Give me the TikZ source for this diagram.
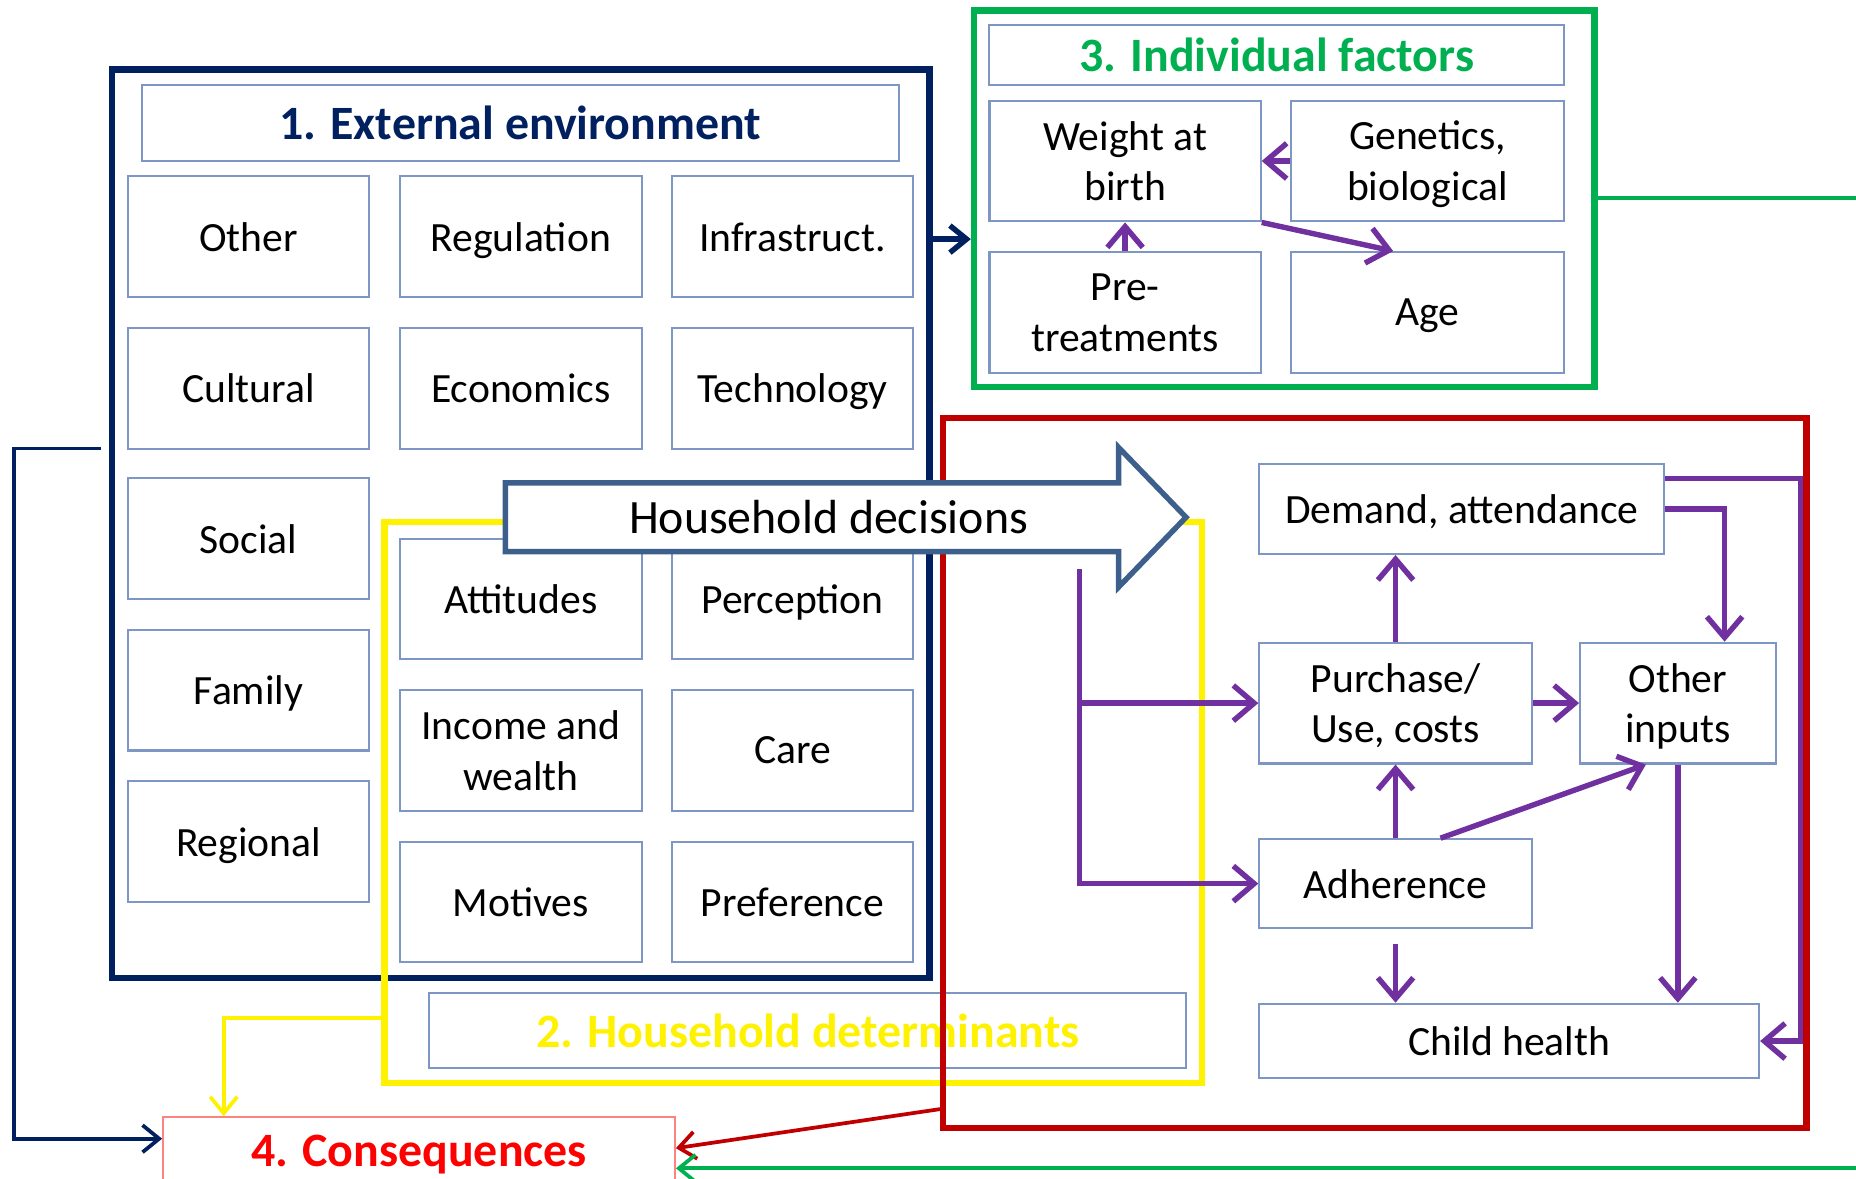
\documentclass[tikz,border=0pt]{standalone}
\usepackage{fontspec}
\setmainfont{Carlito}
\usetikzlibrary{arrows.meta,calc}
\definecolor{navy}{RGB}{0,32,96}
\definecolor{grn}{RGB}{0,176,80}
\definecolor{dred}{RGB}{192,0,0}
\definecolor{purp}{RGB}{112,48,160}
\definecolor{boxln}{RGB}{125,150,195}
\definecolor{arrln}{RGB}{60,95,140}
\definecolor{conln}{RGB}{255,130,130}

\begin{document}
\begin{tikzpicture}[x=.01cm, y=-.01cm,
  item/.style={draw=boxln, line width=.5pt, align=center, inner sep=1pt, text depth=0pt,
    minimum width=2.04cm, minimum height=1.02cm, font=\fontsize{10}{12.2}\selectfont},
  hbox/.style={draw=boxln, line width=.5pt, inner sep=1pt,
    font=\fontsize{11.5}{13}\selectfont\bfseries},
  zone/.style={draw=#1, line width=1.5pt, inner sep=0pt},
  link/.style={draw=#1, line width=.9pt, -{Straight Barb[length=4pt,width=6.5pt]}},
  flow/.style={draw=purp, line width=1.3pt, -{Straight Barb[length=5pt,width=8.5pt]}}
  ]
  \useasboundingbox (0,0) rectangle (1568,996);
  \clip (0,0) rectangle (1568,996);
  \node[zone=navy, minimum width=6.9cm, minimum height=7.67cm] (ext) at (440,442.5) {};
  \node[zone=yellow, minimum width=6.9cm, minimum height=4.74cm] (hhdet) at (670,678) {};
  \node[zone=grn, minimum width=5.24cm, minimum height=3.18cm] (indiv) at (1085,168) {};

  \node[hbox, text=navy, minimum width=6.39cm, minimum height=.64cm] (exttl) at (439.5,104) {1. External environment};
  \node[item] (other) at (210,200) {Other};
  \node[item] (regul) at (440,200) {Regulation};
  \node[item] (infra) at (669.5,200) {Infrastruct.};
  \node[item] (cultur) at (210,328) {Cultural};
  \node[item] (econ) at (440,328) {Economics};
  \node[item] (techn) at (669.5,328) {Technology};
  \node[item] (social) at (210,455) {Social};
  \node[item] (family) at (210,583) {Family};
  \node[item] (region) at (210,711) {Regional};

  \node[item] (attit) at (440,506) {Attitudes};
  \node[item] (percep) at (669.5,506) {Perception};
  \node[item] (income) at (440,634) {Income and\\wealth};
  \node[item] (care) at (669.5,634) {Care};
  \node[item] (motive) at (440,762) {Motives};
  \node[item] (prefer) at (669.5,762) {Preference};
  \node[hbox, text=yellow, minimum width=6.39cm, minimum height=.63cm] (dettl) at (682.5,870.5) {2. Household determinants};

  \node[hbox, text=grn, minimum width=4.85cm, minimum height=.51cm] (indtl) at (1078.5,46.5) {3. Individual factors};
  \node[item, minimum width=2.29cm] (weight) at (950.5,136) {Weight at\\birth};
  \node[item, minimum width=2.3cm] (genet) at (1206,136) {Genetics,\\biological};
  \node[item, minimum width=2.29cm] (pretr) at (950.5,264) {Pre-\\treatments};
  \node[item, minimum width=2.3cm] (age) at (1206,264) {Age};

  \node[zone=dred, minimum width=7.29cm, minimum height=6cm] (redf) at (1161.5,653) {};
  \node[item, minimum width=3.42cm, minimum height=.76cm] (demand) at (1235,430) {Demand, attendance};
  \node[item, minimum width=2.3cm] (purch) at (1179,594) {Purchase/\\Use, costs};
  \node[item, minimum width=1.65cm] (othin) at (1417.5,594) {Other\\inputs};
  \node[item, minimum width=2.3cm, minimum height=.75cm] (adher) at (1179,746.5) {Adherence};
  \node[item, minimum width=4.22cm, minimum height=.63cm] (child) at (1275,879.5) {Child health};

  \node[hbox, draw=conln, text=red, minimum width=4.32cm, minimum height=.62cm] (conseq) at (354,975) {4. Consequences};

  \draw[draw=arrln, fill=white, line width=1.3pt] (427,408) -- (945,408) -- (945,378)
    -- (1002,437) -- (945,496) -- (945,466) -- (427,466) -- cycle;
  \node[font=\fontsize{11.5}{13}\selectfont] (hhdec) at (700,437) {Household decisions};

  \draw[link=navy, line width=1.3pt] (ext.east |- 0,202) -- (indiv.west |- 0,202);
  \draw[link=navy, shorten <=.07cm] (ext.west |- 0,379) -- (12,379) |- (conseq.west |- 0,962);
  \draw[link=yellow] (hhdet.west |- 0,860) -| (conseq.north -| 189,0);
  \draw[link=dred] (redf.west |- 0,937) -- (conseq.east |- 0,970);
  \draw[link=grn] (indiv.east |- 0,167) -- (1600,167) -- (1600,987) -- (conseq.east |- 0,987);

  \draw[flow] (genet.west) -- (weight.east);
  \draw[flow] (pretr.north) -- (weight.south);
  \draw[flow] (weight.south east) -- ($(age.north west)!.375!(age.north east)$);
  \coordinate (split) at (912,481);
  \draw[flow] (split) |- (adher.west);
  \draw[flow] (split |- purch.west) -- (purch.west);
  \draw[flow] (purch.north) -- (purch.north |- demand.south);
  \draw[flow] (purch.east) -- (othin.west);
  \draw[flow] (adher.north) -- (purch.south);
  \draw[flow] ($(adher.north)+(38,0)$) -- ($(othin.south)+(-27,0)$);
  \draw[flow] ($(adher.south)+(0,13)$) -- (adher.south |- child.north);
  \draw[flow] (othin.south) -- (othin.south |- child.north);
  \draw[flow] (demand.east) -| ($(othin.north)+(39.5,0)$);
  \draw[flow] (demand.east |- 0,404) -| ($(child.east)+(34,0)$) -- (child.east);
\end{tikzpicture}
\end{document}
